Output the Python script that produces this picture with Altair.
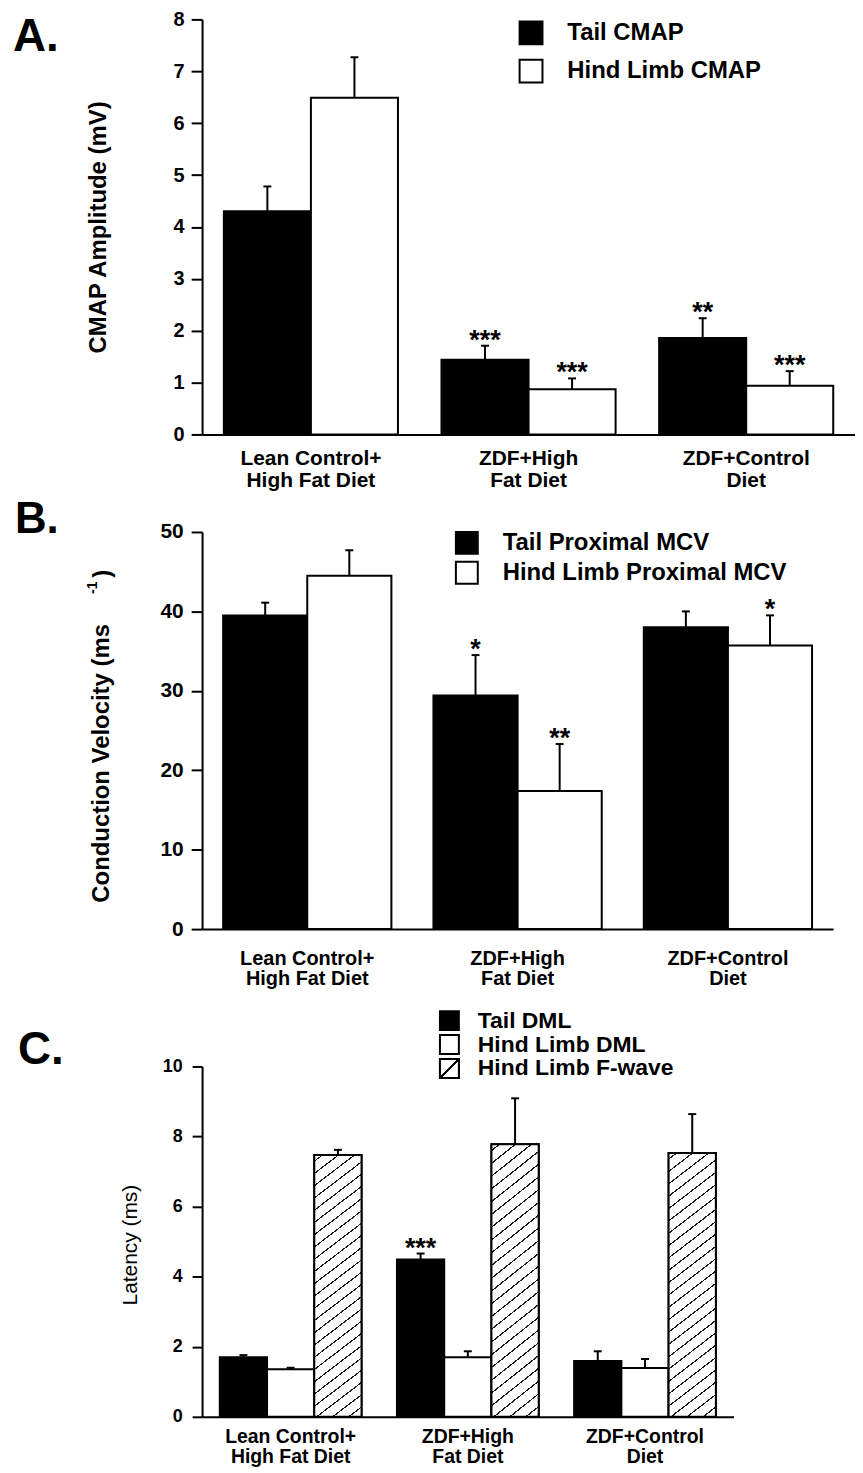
import altair as alt
import pandas as pd

FONT = "Liberation Sans"

groups = ["Lean Control+\nHigh Fat Diet", "ZDF+High\nFat Diet", "ZDF+Control\nDiet"]

# ---------------- Panel A : CMAP amplitude (mV)
a_series = ["Tail CMAP", "Hind Limb CMAP"]
a_tail = [4.30, 1.44, 1.86]
a_tail_err = [0.48, 0.27, 0.38]
a_tail_sig = ["", "***", "**"]
a_hind = [6.49, 0.87, 0.94]
a_hind_err = [0.78, 0.21, 0.28]
a_hind_sig = ["", "***", "***"]
a_ticks = [0, 1, 2, 3, 4, 5, 6, 7, 8]

# ---------------- Panel B : conduction velocity
b_series = ["Tail Proximal MCV", "Hind Limb Proximal MCV"]
b_tail = [39.5, 29.4, 38.0]
b_tail_err = [1.6, 5.1, 2.0]
b_tail_sig = ["", "*", ""]
b_hind = [44.5, 17.4, 35.7]
b_hind_err = [3.2, 5.9, 3.8]
b_hind_sig = ["", "**", "*"]
b_ticks = [0, 10, 20, 30, 40, 50]

# ---------------- Panel C : latency (ms)
c_series = ["Tail DML", "Hind Limb DML", "Hind Limb F-wave"]
c_tail = [1.70, 4.49, 1.59]
c_tail_err = [0.06, 0.17, 0.28]
c_tail_sig = ["", "***", ""]
c_hind = [1.36, 1.70, 1.39]
c_hind_err = [0.04, 0.17, 0.26]
c_hind_sig = ["", "", ""]
c_fwave = [7.47, 7.78, 7.53]
c_fwave_err = [0.15, 1.31, 1.11]
c_fwave_sig = ["", "", ""]
c_ticks = [0, 2, 4, 6, 8, 10]


def make_df(series, vals, errs, sigs):
    rows = []
    for s, v, e, g in zip(series, vals, errs, sigs):
        for i, grp in enumerate(groups):
            rows.append({"group": grp, "series": s, "value": v[i], "err": e[i],
                         "top": v[i] + e[i], "sig": g[i]})
    return pd.DataFrame(rows)


df_a = make_df(a_series, [a_tail, a_hind], [a_tail_err, a_hind_err], [a_tail_sig, a_hind_sig])
df_b = make_df(b_series, [b_tail, b_hind], [b_tail_err, b_hind_err], [b_tail_sig, b_hind_sig])
df_c = make_df(c_series, [c_tail, c_hind, c_fwave], [c_tail_err, c_hind_err, c_fwave_err],
               [c_tail_sig, c_hind_sig, c_fwave_sig])

# ---------------- hatch gradient (diagonal "/" lines) for F-wave bars
bw, bh, slope = 46.0, 267.0, 0.8
gb = 1.2
ga = slope * bw / bh * gb
norm = bh * (ga * ga + gb * gb) / gb
step_t = 12.5 / norm
half_t = 0.75 / norm
stops = [alt.GradientStop(offset=0, color="white")]
c = step_t * 0.5
while c + half_t < 1:
    stops += [alt.GradientStop(offset=round(c - half_t, 5), color="white"),
              alt.GradientStop(offset=round(c - half_t, 5), color="#1a1a1a"),
              alt.GradientStop(offset=round(c + half_t, 5), color="#1a1a1a"),
              alt.GradientStop(offset=round(c + half_t, 5), color="white")]
    c += step_t
stops.append(alt.GradientStop(offset=1, color="white"))
hatch = alt.LinearGradient(gradient="linear", stops=stops, x1=0, y1=0, x2=ga, y2=gb)

diag = alt.LinearGradient(gradient="linear", x1=0, y1=0, x2=1, y2=1, stops=[
    alt.GradientStop(offset=0, color="white"),
    alt.GradientStop(offset=0.46, color="white"),
    alt.GradientStop(offset=0.46, color="black"),
    alt.GradientStop(offset=0.54, color="black"),
    alt.GradientStop(offset=0.54, color="white"),
    alt.GradientStop(offset=1, color="white")])


def text_layer(txt, size, x, y, weight="bold", angle=0, align="left", baseline="alphabetic"):
    return alt.Chart(pd.DataFrame({"t": [txt]})).mark_text(
        font=FONT, fontSize=size, fontWeight=weight, angle=angle, align=align,
        baseline=baseline, color="black").encode(text="t:N", x=alt.value(x), y=alt.value(y))


def panel(df, series, colors, ydom, yticks, xl_size, xl_pad, xl_lh,
          yl_size, yl_pad, tick_len, ytitle, yt_size, yt_weight, yt_x, yt_y, legend, star_size=27):
    x = alt.X("group:N", sort=groups,
              scale=alt.Scale(domain=groups, paddingInner=0.2, paddingOuter=0.1),
              axis=alt.Axis(title=None, labelAngle=0, ticks=False, tickSize=0,
                            labelPadding=xl_pad, labelFontSize=xl_size, labelLineHeight=xl_lh,
                            labelExpr="split(datum.label, '\\n')", labelFontWeight="bold",
                            labelFont=FONT, labelColor="black", labelLimit=400,
                            domainColor="black", domainWidth=2))
    xo = alt.XOffset("series:N", sort=series,
                     scale=alt.Scale(domain=series, paddingInner=0, paddingOuter=0))
    yax = alt.Axis(values=yticks, format="d", grid=False, tickSize=tick_len, tickWidth=2,
                   tickColor="black", domainColor="black", domainWidth=2,
                   labelFontSize=yl_size, labelPadding=yl_pad, labelFontWeight="bold",
                   labelFont=FONT, labelColor="black",
                   title=ytitle, titleFontSize=yt_size, titleFontWeight=yt_weight,
                   titleFont=FONT, titleColor="black", titleX=yt_x, titleY=yt_y,
                   titleAngle=270, titleAlign="center", titleBaseline="alphabetic")
    y = alt.Y("value:Q", scale=alt.Scale(domain=ydom, nice=False), axis=yax)
    fill = alt.Fill("series:N", scale=alt.Scale(domain=series, range=colors), legend=legend)
    base = alt.Chart(df)
    bars = base.mark_bar(stroke="black", strokeWidth=2).encode(x=x, xOffset=xo, y=y, fill=fill)
    rules = base.mark_rule(color="black", strokeWidth=2).encode(
        x=x, xOffset=xo, y="value:Q", y2="top:Q")
    caps = base.mark_tick(color="black", thickness=2, size=8, orient="horizontal",
                          opacity=1).encode(x=x, xOffset=xo, y="top:Q")
    stars = base.mark_text(font=FONT, fontSize=star_size, fontWeight="bold",
                           baseline="alphabetic", dy=3, color="black").encode(
        x=x, xOffset=xo, y="top:Q", text="sig:N")
    return [bars, rules, caps, stars], (x, xo, y)


def legend_def(lx, ly, sym, rowpad):
    return alt.Legend(orient="none", legendX=lx, legendY=ly, direction="vertical", title=None,
                      symbolType="square", symbolSize=sym * sym, symbolStrokeColor="black",
                      symbolStrokeWidth=2, symbolOpacity=1, labelFontSize=24,
                      labelFont=FONT, labelFontWeight="bold", labelColor="black",
                      labelOffset=24, rowPadding=rowpad, labelLimit=600)


# ---------- A
layers_a, _ = panel(df_a, a_series, ["black", "white"], [0, 8], a_ticks,
                    21, 13, 22, 20, 7, 11, "CMAP Amplitude (mV)", 24, "bold", -97, 208.5,
                    legend_def(318, 1, 23, 7.5))
pa = alt.layer(*layers_a, text_layer("A.", 46, -190, 32)).properties(width=656, height=417)

# ---------- B
layers_b, _ = panel(df_b, b_series, ["black", "white"], [0, 50], b_ticks,
                    20, 20, 20, 21, 8, 11, "Conduction Velocity (ms", 24, "bold", -94, 232,
                    legend_def(254, -1, 22, 0))
pb = alt.layer(*layers_b,
               text_layer("-1", 14, -106, 56, angle=270, align="center"),
               text_layer(")", 24, -93, 42, angle=270, align="center"),
               text_layer("B.", 44, -188, 1)).properties(width=634, height=399)

# ---------- C
layers_c, (xc, xoc, yc) = panel(df_c, c_series, ["black", "white", "white"], [0, 10], c_ticks,
                                19.5, 11, 20, 18, 10, 10, "Latency (ms)", 21, "normal",
                                -66, 179, None)
hatched = alt.Chart(df_c).transform_filter(alt.datum.series == "Hind Limb F-wave").mark_bar(
    fill=hatch, stroke="black", strokeWidth=2).encode(x=xc, xOffset=xoc, y=yc)
bars_c, rules_c, caps_c, stars_c = layers_c

leg_c = pd.DataFrame({"series": c_series, "row": [0, 1, 2]})
ly = alt.Y("row:Q", scale=alt.Scale(domain=[0, 2], range=[-46, 2]), axis=None)
leg_sq = alt.Chart(leg_c).mark_square(size=361, stroke="black", strokeWidth=2, opacity=1,
                                      filled=True).encode(
    x=alt.value(248.5), y=ly,
    fill=alt.Fill("series:N", scale=alt.Scale(domain=c_series, range=["black", "white", "white"]),
                  legend=None))
leg_hatch = alt.Chart(leg_c).transform_filter(alt.datum.row == 2).mark_square(
    size=361, stroke="black", strokeWidth=2, opacity=1, filled=True, fill=diag).encode(
    x=alt.value(248.5), y=ly)
leg_txt = alt.Chart(leg_c).mark_text(font=FONT, fontSize=23, fontWeight="bold", align="left",
                                     baseline="middle", color="black").encode(
    x=alt.value(277), y=ly, text="series:N")

plot_c = alt.layer(bars_c, hatched, rules_c, caps_c, stars_c, text_layer("C.", 46, -185, -2))
legend_c = alt.layer(leg_sq, leg_hatch, leg_txt)
pc = alt.layer(plot_c, legend_c).resolve_scale(y="independent").properties(
    width=534, height=352)

inner = alt.vconcat(pb, pc, spacing=138, bounds="flush").resolve_scale(
    x="independent", y="independent", fill="independent", xOffset="independent").resolve_legend(
    fill="independent")
chart = alt.vconcat(pa, inner, spacing=98, bounds="flush").resolve_scale(
    x="independent", y="independent", fill="independent", xOffset="independent").resolve_legend(
    fill="independent").properties(
    padding={"left": 5, "top": -2, "right": 0, "bottom": 0}, background="white"
).configure(font=FONT).configure_view(stroke=None)

chart.save("out.html", embed_options={"renderer": "svg", "actions": False})
